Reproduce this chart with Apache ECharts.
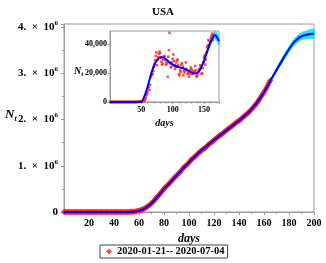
<!DOCTYPE html>
<html><head><meta charset="utf-8">
<script src="https://cdn.jsdelivr.net/npm/echarts@6/dist/echarts.min.js"></script>
<style>html,body{margin:0;padding:0;background:#fff}#c{width:326px;height:263px}</style>
</head><body><div id="c"></div>
<script>
// Cumulative confirmed cases, USA, day 0 = 2020-01-21 ... day 165 = 2020-07-04
const cumCases = [
1,1,1,2,5,5,5,5,6,7,8,8,11,11,11,12,12,12,12,12,13,13,14,14,15,15,15,15,15,15,15,15,35,35,35,53,57,60,60,68,
75,100,124,158,221,319,435,541,704,994,1301,1630,2183,2770,3613,4596,6344,9197,13779,19367,
26700,35200,46400,56000,69000,86000,104000,124000,143000,164000,
189000,215000,244000,276000,309000,337000,367000,398000,432000,467000,
502000,532000,560000,582000,609000,637000,669000,701000,733000,759000,
787000,813000,842000,872000,905000,939000,966000,990000,1014000,1040000,
1070000,1103000,1133000,1158000,1181000,1205000,1229000,1257000,1283000,1309000,
1329000,1347000,1369000,1390000,1417000,1443000,1467000,1486000,1508000,1528000,
1551000,1577000,1601000,1622000,1643000,1662000,1681000,1700000,1722000,1746000,
1770000,1790000,1811000,1831000,1851000,1873000,1897000,1920000,1938000,1956000,
1975000,1996000,2019000,2043000,2069000,2094000,2114000,2137000,2163000,2191000,
2222000,2255000,2281000,2312000,2347000,2385000,2425000,2470000,2512000,2552000,
2593000,2636000,2687000,2742000,2796000,2841000];

// Daily new cases (inset)
const dailyCases = [
1,0,0,1,3,0,0,0,1,1,1,0,3,0,0,1,0,0,0,0,1,0,1,0,1,0,0,0,0,0,0,0,20,0,0,18,4,3,0,8,
7,25,24,34,63,98,116,106,163,290,
307,329,553,587,843,983,1748,2853,4582,5588,
6900,9300,10600,8400,12000,17500,18500,19500,19300,21500,
24500,26500,29000,32000,34500,25500,29500,31000,33500,35000,
34000,30500,28000,26000,26500,29500,31500,32000,29500,26000,
28000,26500,17500,31500,36000,48000,27000,24000,24500,27500,
30000,33000,28500,25500,23000,24500,27500,29000,29500,25500,
19500,18500,22000,21000,26000,27000,24500,18500,21500,20500,
22500,27500,23000,22000,19500,20000,17500,19500,22000,24000,
23000,19500,21500,20000,20500,21500,25000,22000,18000,17500,
19000,21000,23000,22500,25500,24000,19500,20000,23500,27500,
31000,32500,26000,29500,34500,38000,39500,43000,42500,40000,
41500,44500,46000,47500,43000,46500];

// Fitted cumulative curve (main panel)
const fitDays = [0,5,10,15,20,25,30,35,40,45,50,55,60,65,70,75,80,85,90,95,100,105,110,115,120,125,130,135,140,145,150,155,160,165,170,175,180,185,190,195,200];
const fitVals = [0,0,0,0,0,0,0,0,0,500,2000,6000,25000,85000,190000,335000,500000,640000,785000,935000,1075000,1210000,1335000,1445000,1555000,1660000,1765000,1870000,1975000,2090000,2220000,2385000,2590000,2830000,3070000,3300000,3520000,3700000,3800000,3840000,3855000];
// Confidence band (main panel)
const bandDays = [150,155,160,165,170,175,180,185,190,195,200];
const bandLow  = [2210000,2372000,2572000,2800000,3030000,3250000,3460000,3630000,3725000,3755000,3760000];
const bandHigh = [2230000,2398000,2608000,2860000,3110000,3350000,3580000,3770000,3875000,3925000,3945000];

// Fitted daily curve (inset)
const insetFitDays = [0,5,10,15,20,25,30,35,40,45,50,55,60,65,70,75,80,85,90,95,100,105,110,115,120,125,130,135,140,145,150,155,160,165,168,170,174];
const insetFitVals = [0,0,0,0,0,0,0,0,0,0,300,4000,10500,18500,25000,29000,31000,31000,29500,27500,26000,25000,24200,23600,22800,21700,20500,19800,20500,23500,28500,35000,41000,45500,46300,45500,42300];
const insetBandDays = [145,150,155,160,165,168,170,174];
const insetBandLow  = [23000,27700,33700,39300,43200,43700,42800,39500];
const insetBandHigh = [24000,29300,36300,42700,47800,48900,48300,45600];

const mainXTicks = [20,40,60,80,100,120,140,160,180,200];
const mainYTicks = ['0','1','2','3','4'];
const legendLabel = '2020-01-21-- 2020-07-04';

const serif = 'Liberation Serif';
const days = cumCases.map((_, i) => i);
const pairs = (xs, ys) => xs.map((x, i) => [x, ys[i]]);

function bandSeries(xi, xs, lo, hi, z) {
  return {
    type: 'custom', xAxisIndex: xi, yAxisIndex: xi, z: z, silent: true,
    data: xs.map((x, i) => [x, lo[i], hi[i]]),
    renderItem: function (params, api) {
      if (params.dataIndex !== 0) return null;
      const top = xs.map((x, i) => api.coord([x, hi[i]]));
      const bot = xs.map((x, i) => api.coord([x, lo[i]])).reverse();
      return {type: 'polygon', shape: {points: top.concat(bot), smooth: 0.3}, style: {fill: '#22e4f4', stroke: '#22e4f4', lineWidth: 1}};
    }
  };
}

const chart = echarts.init(document.getElementById('c'), null, {renderer: 'canvas'});
const gray = '#9a9a9a';
const lblBase = {color: '#000', fontFamily: serif, fontWeight: 'bold'};
const sp = '\u2002';

chart.setOption({
  animation: false,
  title: {text: 'USA', left: 'center', top: 2, textStyle: {fontFamily: serif, fontWeight: 'bold', fontSize: 11, color: '#000'}},
  legend: {
    data: [legendLabel], left: 100, top: 245, orient: 'horizontal',
    borderColor: '#444', borderWidth: 1, padding: [1, 3, 1, 6],
    itemWidth: 6, itemHeight: 6, itemGap: 4, icon: 'diamond',
    textStyle: {fontFamily: serif, fontWeight: 'bold', fontSize: 10.5, color: '#000'}
  },
  grid: [
    {left: 64, top: 24, width: 250, height: 188, show: true, borderColor: gray, borderWidth: 1, backgroundColor: '#fff'},
    {left: 110, top: 31, width: 109, height: 71, show: true, borderColor: gray, borderWidth: 1, backgroundColor: '#fff', z: 5}
  ],
  xAxis: [
    {gridIndex: 0, type: 'value', min: 0, max: 200, interval: 20,
     axisLine: {lineStyle: {color: gray}}, axisTick: {show: true, length: 3, lineStyle: {color: gray}},
     minorTick: {show: true, splitNumber: 2, length: 2, lineStyle: {color: gray}},
     splitLine: {show: false},
     axisLabel: Object.assign({fontSize: 10, margin: 6, showMinLabel: false,
       formatter: v => mainXTicks.includes(v) ? String(v) : ''}, lblBase),
     name: 'days', nameLocation: 'middle', nameGap: 20,
     nameTextStyle: {fontFamily: serif, fontWeight: 'bold', fontStyle: 'italic', fontSize: 12, color: '#000'}},
    {gridIndex: 1, type: 'value', min: 0, max: 174, interval: 50, z: 6,
     axisLine: {lineStyle: {color: gray}}, axisTick: {show: true, length: 2, lineStyle: {color: gray}},
     minorTick: {show: true, splitNumber: 5, length: 1.5, lineStyle: {color: gray}},
     splitLine: {show: false},
     axisLabel: Object.assign({fontSize: 8, margin: 4, showMinLabel: false, showMaxLabel: false}, lblBase),
     name: 'days', nameLocation: 'middle', nameGap: 16,
     nameTextStyle: {fontFamily: serif, fontWeight: 'bold', fontStyle: 'italic', fontSize: 10, color: '#000'}}
  ],
  yAxis: [
    {gridIndex: 0, type: 'value', min: 0, max: 4065000, interval: 1000000,
     axisLine: {show: true, lineStyle: {color: gray}}, axisTick: {show: true, length: 3, lineStyle: {color: gray}},
     minorTick: {show: true, splitNumber: 2, length: 2, lineStyle: {color: gray}},
     splitLine: {show: false},
     axisLabel: Object.assign({fontSize: 11, margin: 6, showMaxLabel: false,
       formatter: v => { const k = Math.round(v / 1e6); return k === 0 ? '{a|0}' : '{a|' + mainYTicks[k] + '.' + sp + '×' + sp + '10}{s|6}'; },
       rich: {a: {fontFamily: serif, fontWeight: 'bold', fontSize: 11, color: '#000'},
              s: {fontFamily: serif, fontWeight: 'bold', fontSize: 7, color: '#000', verticalAlign: 'top', padding: [0, 0, 8, 0]}}}, lblBase)},
    {gridIndex: 1, type: 'value', min: 0, max: 49300, interval: 20000, z: 6,
     axisLine: {show: true, lineStyle: {color: gray}}, axisTick: {show: true, length: 2, lineStyle: {color: gray}},
     splitLine: {show: false},
     axisLabel: Object.assign({fontSize: 8, margin: 3, showMaxLabel: false}, lblBase)}
  ],
  graphic: [
    {type: 'text', left: 5, top: 108, z: 10, style: {rich: {n: {fontFamily: serif, fontWeight: 'bold', fontStyle: 'italic', fontSize: 13, fill: '#000'}, t: {fontFamily: serif, fontWeight: 'bold', fontStyle: 'italic', fontSize: 8, fill: '#000', padding: [8, 0, 0, 0]}}, text: '{n|N}{t|t}'}},
    {type: 'text', left: 74, top: 66, z: 10, style: {rich: {n: {fontFamily: serif, fontWeight: 'bold', fontStyle: 'italic', fontSize: 10, fill: '#000'}, t: {fontFamily: serif, fontWeight: 'bold', fontStyle: 'italic', fontSize: 7, fill: '#000', padding: [6, 0, 0, 0]}}, text: '{n|N}{t|t}'}}
  ],
  series: [
    bandSeries(0, bandDays, bandLow, bandHigh, 1),
    {name: legendLabel, type: 'scatter', xAxisIndex: 0, yAxisIndex: 0, data: pairs(days, cumCases), symbol: 'diamond', symbolSize: 6.5, itemStyle: {color: '#ff1a1a'}, z: 2},
    {type: 'line', xAxisIndex: 0, yAxisIndex: 0, data: pairs(fitDays, fitVals), symbol: 'none', smooth: 0.3, lineStyle: {color: '#0000ff', width: 2}, z: 3},
    bandSeries(1, insetBandDays, insetBandLow, insetBandHigh, 6),
    {type: 'scatter', xAxisIndex: 1, yAxisIndex: 1, data: pairs(days, dailyCases), symbol: 'rect', symbolSize: 2.5, itemStyle: {color: '#ff2020'}, z: 6},
    {type: 'line', xAxisIndex: 1, yAxisIndex: 1, data: pairs(insetFitDays, insetFitVals), symbol: 'none', smooth: 0.3, lineStyle: {color: '#0000ff', width: 2}, z: 7}
  ]
});
</script></body></html>
